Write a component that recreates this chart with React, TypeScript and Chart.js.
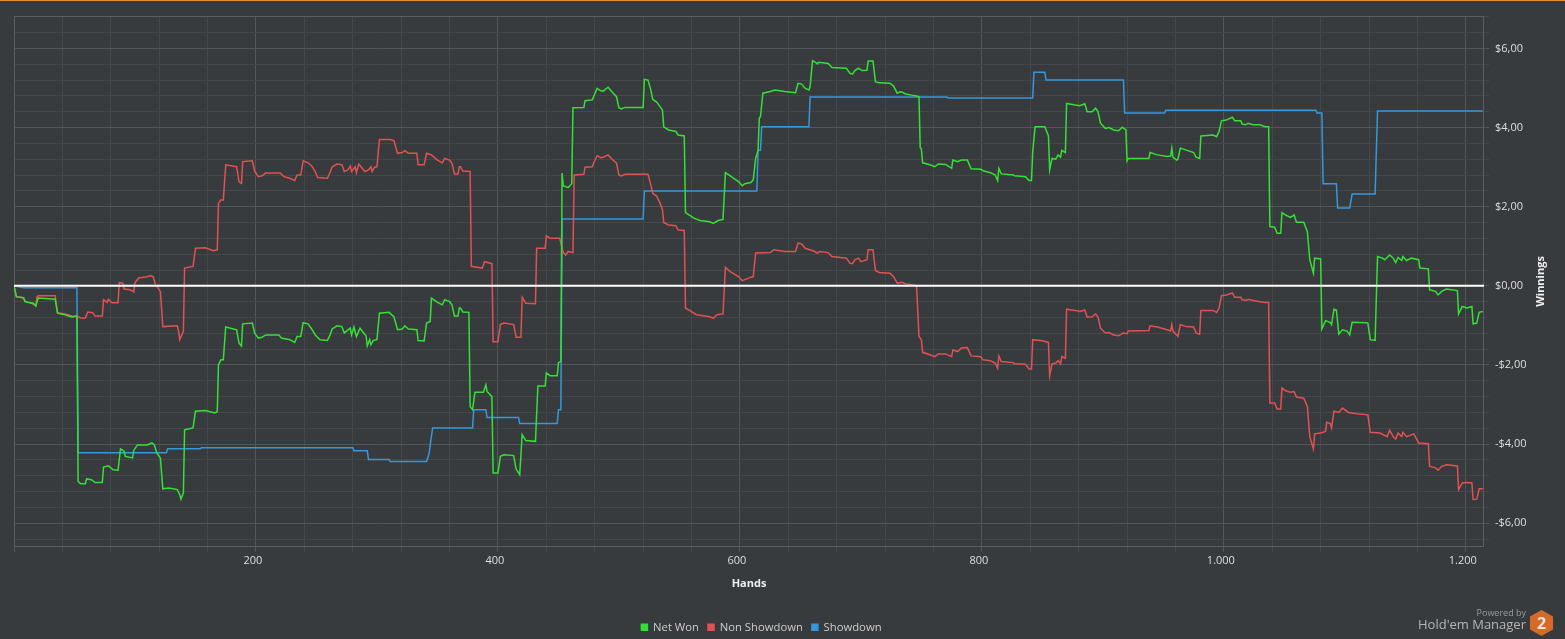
import React, { useEffect, useRef } from 'react';
import { Chart, registerables } from 'chart.js';

Chart.register(...registerables);

// ---------- axis definitions ----------
const X_MIN = 0;
const X_MAX = 1215;
const X_MINOR_STEP = 40;
const X_LABELS = [200, 400, 600, 800, 1000, 1200];

const Y_MIN = -6.6;
const Y_MAX = 6.82;
const Y_MINOR_STEP = 0.4;
const Y_LABELS = [-6, -4, -2, 0, 2, 4, 6];

const SERIES_NAMES = ['Net Won', 'Non Showdown', 'Showdown'];

// ---------- series: [hand, winnings $] ----------
const NET_WON: [number, number][] = [
  [0,0],[2,-0.28],[8,-0.30],[9,-0.40],[12,-0.42],[16,-0.44],[18,-0.51],[20,-0.31],[34,-0.34],[36,-0.69],[42,-0.73],[48,-0.79],[51,-0.76],[52,-0.76],
  [53,-4.94],[55,-5.00],[59,-5.00],[60,-4.88],[64,-4.90],[67,-4.97],[73,-4.97],[74,-4.58],[78,-4.55],[82,-4.65],[86,-4.66],[88,-4.12],[91,-4.18],[92,-4.31],
  [98,-4.35],[99,-4.16],[102,-4.02],[110,-4.02],[114,-3.97],[116,-4.02],[118,-4.22],[121,-4.35],[123,-5.13],[128,-5.11],[135,-5.15],[137,-5.28],[138,-5.39],
  [140,-5.23],[141,-3.64],[148,-3.59],[150,-3.17],[158,-3.15],[166,-3.21],[168,-3.18],[169,-1.99],[171,-1.87],[173,-1.87],[175,-1.04],[184,-1.11],[186,-1.45],
  [188,-1.52],[189,-0.96],[197,-0.94],[199,-1.20],[202,-1.32],[205,-1.30],[208,-1.24],[219,-1.24],[221,-1.32],[228,-1.36],[232,-1.43],[234,-1.28],[237,-1.28],
  [239,-0.93],[243,-0.96],[246,-1.09],[249,-1.24],[253,-1.36],[259,-1.38],[261,-1.26],[263,-1.09],[267,-1.01],[271,-1.03],[273,-1.19],[278,-1.07],[279,-1.24],
  [281,-1.04],[283,-1.28],[286,-1.07],[289,-1.19],[291,-1.26],[292,-1.52],[294,-1.36],[295,-1.49],[297,-1.38],[300,-1.36],[302,-0.69],[310,-0.67],[314,-0.78],
  [317,-1.11],[321,-1.09],[323,-1.01],[326,-1.09],[333,-1.11],[334,-1.38],[339,-1.39],[341,-0.94],[344,-0.90],[345,-0.31],[350,-0.42],[354,-0.48],[356,-0.35],
  [360,-0.40],[362,-0.48],[364,-0.76],[367,-0.76],[368,-0.56],[369,-0.56],[371,-0.66],[376,-0.67],[377,-3.05],[379,-3.13],[381,-2.69],[388,-2.69],[390,-2.50],
  [391,-2.67],[395,-2.80],[396,-4.73],[400,-4.73],[402,-4.31],[405,-4.27],[413,-4.29],[415,-4.63],[418,-4.77],[420,-3.76],[423,-3.91],[431,-3.93],[433,-2.53],
  [439,-2.53],[440,-2.20],[443,-2.27],[449,-2.27],[450,-1.94],[452,-1.91],[453,2.85],[454,2.53],[458,2.48],[461,2.58],[462,4.50],[471,4.51],[472,4.68],[478,4.70],
  [479,4.78],[482,4.99],[485,4.93],[487,4.92],[491,5.02],[494,4.91],[498,4.78],[500,4.50],[502,4.47],[505,4.51],[520,4.51],[521,5.22],[524,5.20],[526,4.99],
  [528,4.71],[531,4.65],[534,4.53],[536,4.44],[537,4.02],[541,3.94],[547,3.90],[549,3.81],[554,3.79],[555,1.85],[562,1.71],[567,1.65],[575,1.62],[578,1.58],
  [582,1.65],[586,1.68],[588,2.86],[592,2.78],[599,2.63],[602,2.53],[604,2.58],[609,2.61],[611,2.68],[613,3.22],[615,3.43],[616,4.23],[617,4.28],[619,4.87],
  [625,4.91],[629,4.95],[637,4.91],[646,4.88],[648,5.12],[651,5.10],[654,4.99],[657,4.95],[658,5.03],[660,5.69],[662,5.66],[664,5.61],[665,5.65],[673,5.62],
  [676,5.52],[688,5.50],[691,5.37],[693,5.35],[695,5.44],[698,5.50],[701,5.44],[705,5.45],[706,5.68],[710,5.68],[712,5.16],[715,5.13],[724,5.12],[727,5.05],
  [730,4.87],[733,4.91],[737,4.85],[742,4.82],[746,4.80],[748,4.78],[749,3.50],[750,3.45],[751,3.11],[757,3.06],[761,3.01],[764,3.08],[770,3.07],[775,2.97],
  [776,3.18],[780,3.14],[783,3.18],[788,3.18],[791,2.96],[799,2.95],[801,2.91],[807,2.86],[811,2.80],[813,2.66],[814,2.97],[816,2.83],[826,2.80],[827,2.78],
  [836,2.76],[839,2.66],[841,2.66],[842,3.39],[844,4.02],[852,4.02],[855,3.79],[856,2.93],[858,3.22],[861,3.20],[863,3.31],[865,3.25],[866,3.42],[869,3.37],
  [870,4.61],[877,4.57],[881,4.55],[885,4.60],[887,4.40],[891,4.40],[894,4.49],[896,4.40],[898,4.11],[902,3.98],[905,4.00],[909,3.94],[913,3.92],[916,4.01],
  [919,3.94],[920,3.16],[921,3.22],[938,3.22],[939,3.37],[945,3.31],[953,3.27],[956,3.28],[957,3.48],[958,3.25],[961,3.18],[962,3.20],[964,3.48],[969,3.43],
  [975,3.37],[977,3.25],[980,3.22],[981,3.79],[991,3.81],[994,3.77],[996,3.90],[998,4.17],[1002,4.19],[1007,4.26],[1009,4.17],[1014,4.17],[1015,4.09],
  [1018,4.07],[1020,4.11],[1024,4.07],[1030,4.07],[1034,4.02],[1037,4.02],[1038,1.50],[1042,1.48],[1044,1.33],[1047,1.33],[1048,1.85],[1051,1.79],[1055,1.73],
  [1058,1.79],[1060,1.61],[1066,1.61],[1069,1.37],[1071,0.66],[1074,0.32],[1075,0.70],[1080,0.68],[1081,-1.09],[1084,-0.88],[1088,-0.93],[1089,-0.98],
  [1091,-0.59],[1093,-0.61],[1095,-1.22],[1098,-1.11],[1102,-1.15],[1104,-1.24],[1106,-0.92],[1118,-0.93],[1119,-0.94],[1121,-1.36],[1125,-1.38],[1127,0.74],
  [1131,0.70],[1133,0.66],[1137,0.78],[1140,0.70],[1142,0.59],[1144,0.72],[1147,0.64],[1148,0.74],[1151,0.64],[1155,0.70],[1161,0.66],[1162,0.45],[1169,0.43],
  [1170,-0.10],[1175,-0.14],[1177,-0.23],[1180,-0.14],[1184,-0.08],[1193,-0.12],[1194,-0.71],[1197,-0.52],[1201,-0.56],[1205,-0.52],[1206,-0.96],[1209,-0.94],
  [1211,-0.67],[1214,-0.65],
];

const NON_SHOWDOWN: [number, number][] = [
  [0,0],[2,-0.27],[7,-0.30],[10,-0.40],[15,-0.45],[18,-0.51],[19,-0.28],[20,-0.25],[34,-0.25],[36,-0.68],[42,-0.71],[48,-0.76],[53,-0.78],[55,-0.81],[59,-0.81],
  [61,-0.66],[65,-0.68],[67,-0.76],[73,-0.76],[74,-0.35],[77,-0.42],[78,-0.34],[81,-0.43],[86,-0.43],[87,0.08],[90,0.07],[91,-0.08],[96,-0.10],[99,-0.15],
  [100,0.08],[103,0.20],[110,0.23],[113,0.26],[115,0.23],[117,0.03],[121,-0.14],[123,-1.03],[135,-1.01],[136,-1.13],[137,-1.36],[140,-1.15],[141,0.45],
  [148,0.49],[150,0.95],[158,0.96],[165,0.89],[168,0.91],[169,2.09],[171,2.17],[173,2.17],[175,3.06],[184,3.01],[186,2.63],[188,2.59],[189,3.14],[197,3.16],
  [199,2.89],[202,2.76],[205,2.78],[208,2.85],[220,2.85],[223,2.76],[228,2.72],[232,2.66],[234,2.80],[237,2.80],[239,3.16],[243,3.11],[246,3.03],[249,2.89],
  [251,2.74],[259,2.72],[261,2.85],[263,3.01],[267,3.08],[271,3.06],[273,2.89],[276,2.93],[278,3.03],[279,2.89],[282,3.01],[283,2.86],[285,3.08],[290,2.89],
  [293,2.93],[295,3.01],[296,2.89],[298,3.00],[300,3.01],[302,3.70],[311,3.70],[314,3.67],[317,3.35],[321,3.37],[323,3.42],[326,3.35],[333,3.35],[334,3.06],
  [339,3.06],[341,3.35],[345,3.31],[350,3.18],[354,3.11],[356,3.22],[360,3.18],[362,3.10],[364,2.83],[367,2.83],[368,3.01],[369,3.01],[371,2.90],[377,2.89],
  [378,0.49],[379,0.49],[387,0.45],[389,0.61],[395,0.56],[396,-1.41],[400,-1.41],[402,-0.98],[405,-0.94],[413,-0.98],[415,-1.30],[419,-1.30],[420,-0.29],
  [423,-0.44],[431,-0.45],[432,0.95],[439,0.95],[440,1.27],[443,1.20],[451,1.20],[454,0.84],[456,0.78],[458,0.87],[462,0.84],[463,2.80],[471,2.82],[472,3.00],
  [478,3.01],[479,3.10],[482,3.29],[485,3.24],[487,3.25],[491,3.31],[494,3.21],[498,3.10],[500,2.80],[502,2.78],[505,2.82],[524,2.82],[526,2.59],[528,2.34],
  [531,2.27],[534,2.09],[536,1.92],[537,1.60],[541,1.54],[547,1.52],[549,1.41],[554,1.40],[555,-0.56],[562,-0.69],[564,-0.73],[575,-0.78],[578,-0.82],
  [581,-0.73],[586,-0.71],[588,0.47],[592,0.36],[599,0.23],[602,0.13],[609,0.22],[611,0.23],[613,0.83],[625,0.84],[628,0.91],[637,0.87],[646,0.87],[648,1.08],
  [651,1.06],[654,0.95],[661,0.88],[664,0.83],[666,0.87],[673,0.84],[676,0.74],[688,0.70],[691,0.57],[693,0.56],[695,0.66],[698,0.70],[700,0.61],[705,0.66],
  [706,0.91],[710,0.91],[712,0.39],[715,0.34],[724,0.32],[727,0.23],[730,0.07],[734,0.09],[737,0.05],[742,0.03],[746,0.00],[748,-1.28],[750,-1.36],[751,-1.68],
  [757,-1.74],[761,-1.79],[764,-1.72],[770,-1.72],[775,-1.79],[776,-1.62],[780,-1.66],[783,-1.57],[788,-1.56],[791,-1.77],[799,-1.79],[801,-1.87],[807,-1.89],
  [811,-1.95],[813,-2.08],[814,-1.77],[816,-1.91],[826,-1.94],[827,-1.97],[836,-1.98],[839,-2.10],[841,-2.10],[842,-1.36],[850,-1.39],[855,-1.43],[856,-2.27],
  [858,-1.97],[861,-1.95],[863,-1.89],[865,-1.97],[866,-1.79],[869,-1.83],[870,-0.59],[877,-0.62],[881,-0.65],[885,-0.61],[887,-0.79],[891,-0.78],[894,-0.71],
  [896,-0.79],[898,-1.07],[902,-1.19],[905,-1.18],[909,-1.24],[913,-1.26],[917,-1.19],[920,-1.21],[921,-1.14],[938,-1.13],[939,-1.01],[945,-1.04],[953,-1.11],
  [956,-1.14],[957,-0.98],[958,-1.15],[961,-1.24],[962,-1.28],[964,-0.98],[969,-1.03],[975,-1.04],[977,-1.19],[980,-1.22],[981,-0.62],[991,-0.62],[994,-0.67],
  [996,-0.56],[998,-0.25],[1002,-0.23],[1007,-0.18],[1009,-0.29],[1014,-0.29],[1015,-0.35],[1018,-0.37],[1020,-0.34],[1024,-0.37],[1030,-0.40],[1034,-0.42],
  [1037,-0.42],[1038,-2.96],[1042,-2.96],[1044,-3.11],[1047,-3.11],[1048,-2.58],[1051,-2.65],[1055,-2.69],[1058,-2.67],[1060,-2.81],[1066,-2.84],[1069,-3.05],
  [1071,-3.81],[1074,-4.12],[1075,-3.74],[1080,-3.72],[1084,-3.68],[1085,-3.45],[1088,-3.48],[1089,-3.59],[1091,-3.17],[1095,-3.20],[1098,-3.09],[1103,-3.20],
  [1110,-3.23],[1119,-3.26],[1121,-3.70],[1129,-3.72],[1135,-3.81],[1137,-3.65],[1140,-3.81],[1142,-3.87],[1144,-3.72],[1147,-3.81],[1148,-3.70],[1151,-3.81],
  [1157,-3.74],[1161,-3.97],[1169,-3.99],[1170,-4.56],[1175,-4.60],[1177,-4.66],[1180,-4.56],[1184,-4.52],[1193,-4.55],[1194,-5.15],[1197,-4.98],[1201,-4.97],
  [1205,-4.98],[1206,-5.40],[1209,-5.39],[1211,-5.13],[1214,-5.13],
];

const SHOWDOWN: [number, number][] = [
  [0,0],[8,-0.05],[52,-0.05],[53,-4.22],[126,-4.22],[127,-4.12],[154,-4.12],[155,-4.09],[280,-4.09],[281,-4.17],[292,-4.17],[293,-4.39],[310,-4.39],
  [311,-4.44],[341,-4.44],[343,-4.25],[346,-3.59],[379,-3.59],[380,-3.13],[390,-3.13],[391,-3.33],[417,-3.33],[418,-3.48],[449,-3.48],[450,-3.13],[452,-3.13],
  [453,1.69],[520,1.69],[521,2.40],[614,2.40],[615,3.43],[617,3.43],[618,4.02],[657,4.02],[658,4.77],[771,4.77],[772,4.75],[842,4.75],[843,5.40],[852,5.40],
  [853,5.20],[917,5.20],[918,4.37],[951,4.37],[952,4.44],[1076,4.44],[1077,4.37],[1081,4.37],[1082,2.58],[1093,2.58],[1094,1.97],[1104,1.97],[1106,2.32],
  [1125,2.32],[1127,4.42],[1214,4.42],
];

// ---------- styles ----------
const BG = '#383b3e';
const GRID_MINOR = '#45484b';
const GRID_MAJOR = '#53565a';
const FRAME = '#5b5e61';
const TEXT = '#dedede';
const COLORS = ['#35e035', '#e05252', '#3498db'];
const FONT = "'Open Sans', 'Noto Sans', sans-serif";
const LEGEND_SHIFT = -28;

const fmtHands = (v: number) =>
  v >= 1000 ? `${Math.floor(v / 1000)}.${String(v % 1000).padStart(3, '0')}` : String(v);
const fmtMoney = (v: number) =>
  `${v < 0 ? '-' : ''}$${Math.abs(v).toFixed(2).replace('.', ',')}`;
const isYLabel = (v: number) => Y_LABELS.some((l) => Math.abs(l - v) < 1e-6);

const framePlugin = {
  id: 'hmFrame',
  afterLayout(chart: any) {
    const lg = chart.legend;
    if (lg) {
      lg.left += LEGEND_SHIFT;
      lg.right += LEGEND_SHIFT;
    }
  },
  beforeDatasetsDraw(chart: any) {
    const { ctx, chartArea: a } = chart;
    ctx.save();
    ctx.strokeStyle = FRAME;
    ctx.lineWidth = 1;
    ctx.strokeRect(a.left + 0.5, a.top + 0.5, a.right - a.left - 1, a.bottom - a.top - 1);
    ctx.restore();
  },
  afterDatasetsDraw(chart: any) {
    const { ctx, chartArea: a } = chart;
    const y = chart.scales.y.getPixelForValue(0);
    ctx.save();
    ctx.strokeStyle = '#ffffff';
    ctx.lineWidth = 2;
    ctx.beginPath();
    ctx.moveTo(a.left, y);
    ctx.lineTo(a.right, y);
    ctx.stroke();
    ctx.restore();
  },
  afterDraw(chart: any) {
    const { ctx, chartArea: a } = chart;
    ctx.save();
    ctx.translate(a.right + 57, (a.top + a.bottom) / 2);
    ctx.rotate(-Math.PI / 2);
    ctx.fillStyle = '#eeeeee';
    ctx.font = `bold 11px ${FONT}`;
    ctx.textAlign = 'center';
    ctx.textBaseline = 'middle';
    ctx.fillText('Winnings', 0, 0);
    ctx.restore();
  },
};

export default function App() {
  const ref = useRef<HTMLCanvasElement | null>(null);

  useEffect(() => {
    document.body.style.margin = '0';
    document.body.style.background = BG;
    document.body.style.overflow = 'hidden';
    const series = [NET_WON, NON_SHOWDOWN, SHOWDOWN];
    const chart = new Chart(ref.current as HTMLCanvasElement, {
      type: 'line',
      data: {
        datasets: series.map((s, i) => ({
          label: SERIES_NAMES[i],
          data: s.map(([x, y]) => ({ x, y })),
          borderColor: COLORS[i],
          backgroundColor: COLORS[i],
          borderWidth: 1.5,
          pointRadius: 0,
          tension: 0,
          fill: false,
        })),
      },
      options: {
        animation: false,
        responsive: false,
        devicePixelRatio: 1,
        layout: { padding: { left: 14, top: 16, right: 0, bottom: -4 } },
        plugins: {
          tooltip: { enabled: false },
          legend: {
            position: 'bottom',
            labels: {
              color: '#cccccc',
              font: { family: FONT, size: 11.3 },
              boxWidth: 6,
              boxHeight: 6,
              padding: 9,
            },
          },
        },
        scales: {
          x: {
            type: 'linear',
            min: X_MIN,
            max: X_MAX,
            afterBuildTicks: (scale: any) => {
              const t = [];
              for (let v = X_MIN; v <= X_MAX; v += X_MINOR_STEP) t.push({ value: v });
              scale.ticks = t;
            },
            afterFit: (scale: any) => {
              scale.height = 65.7;
            },
            ticks: {
              autoSkip: false,
              maxRotation: 0,
              padding: 2,
              labelOffset: -3,
              color: TEXT,
              font: { family: FONT, size: 11 },
              callback: (v: any) => (X_LABELS.includes(v) ? fmtHands(v) : ''),
            },
            grid: {
              color: (c: any) => (c.tick && c.tick.value % 200 === 0 ? GRID_MAJOR : GRID_MINOR),
              tickLength: 5,
            },
            border: { display: false },
            title: {
              display: true,
              text: 'Hands',
              color: '#eeeeee',
              font: { family: FONT, size: 11, weight: 'bold' },
              padding: { top: 0, bottom: 22.5 },
            },
          },
          y: {
            type: 'linear',
            position: 'right',
            min: Y_MIN,
            max: Y_MAX,
            afterBuildTicks: (scale: any) => {
              const t = [];
              const n = Math.floor(Y_MAX / Y_MINOR_STEP);
              const m = Math.ceil(Y_MIN / Y_MINOR_STEP);
              for (let i = m; i <= n; i++) t.push({ value: Math.round(i * Y_MINOR_STEP * 100) / 100 });
              scale.ticks = t;
            },
            afterFit: (scale: any) => {
              scale.width = 81;
            },
            ticks: {
              autoSkip: false,
              padding: 6,
              color: TEXT,
              font: { family: FONT, size: 11 },
              callback: (v: any) => (isYLabel(v) ? fmtMoney(v) : ''),
            },
            grid: {
              color: (c: any) => (c.tick && Math.abs(c.tick.value % 2) < 1e-6 ? GRID_MAJOR : GRID_MINOR),
              tickLength: 5,
            },
            border: { display: false },
          },
        },
      } as any,
      plugins: [framePlugin],
    });
    return () => chart.destroy();
  }, []);

  return (
    <div style={{ position: 'relative', width: 1565, height: 639, background: BG, overflow: 'hidden', fontFamily: FONT }}>
      <canvas ref={ref} width={1565} height={639} style={{ display: 'block', width: 1565, height: 639 }} />
      <div style={{ position: 'absolute', left: 0, top: 0, width: 1565, height: 1, background: '#e3922c' }} />
      <div style={{ position: 'absolute', right: 39, top: 607, fontSize: 9, lineHeight: '11px', color: '#9a9a9a' }}>Powered by</div>
      <div style={{ position: 'absolute', right: 39, top: 615, fontSize: 13, lineHeight: '18px', color: '#b4b4b4' }}>Hold'em Manager</div>
      <svg style={{ position: 'absolute', left: 1530, top: 610 }} width={23} height={26} viewBox="0 0 23 26">
        <polygon points="11.5,0 23,6.5 23,19.5 11.5,26 0,19.5 0,6.5" fill="#d66a26" />
        <text x={11.5} y={19} textAnchor="middle" fontSize={16} fontWeight="bold" fill="#e6e6e6" fontFamily={FONT}>2</text>
      </svg>
    </div>
  );
}
